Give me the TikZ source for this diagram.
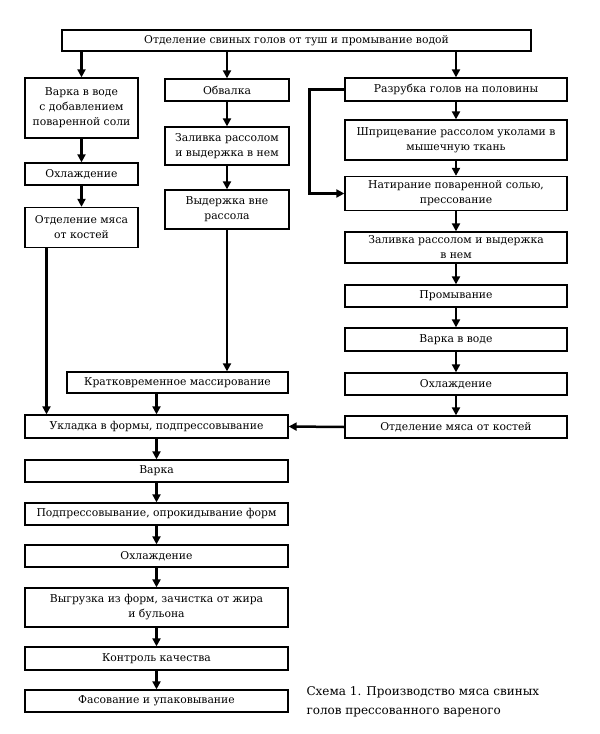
\documentclass[tikz,border=0pt]{standalone}
\usepackage{fontspec}
\setmainfont{DejaVu Serif}
\usetikzlibrary{arrows.meta}

\begin{document}
\begin{tikzpicture}[x=1pt, y=-1pt,
  etape/.style={draw, line width=1.3pt, align=center, inner sep=2pt,
    font=\fontsize{10.8}{15}\selectfont},
  fleche/.style={line width=2.5pt, -{Triangle[length=8pt,width=8pt]}}]
  \useasboundingbox (0,0) rectangle (600,734);

  \node[etape, minimum width=469, minimum height=21] (tete) at (296.5,40.5)
    {Отделение свиных голов от туш и промывание водой};

  % colonne gauche
  \node[etape, minimum width=113, minimum height=60] (L1) at (81.5,108)
    {Варка в воде\\с добавлением\\поваренной соли};
  \node[etape, minimum width=113, minimum height=22] (L2) at (81.5,174) {Охлаждение};
  \node[etape, minimum width=113, minimum height=40] (L3) at (81.5,227.5)
    {Отделение мяса\\от костей};

  % colonne du milieu
  \node[etape, minimum width=124, minimum height=22] (M1) at (227,90) {Обвалка};
  \node[etape, minimum width=124, minimum height=38] (M2) at (227,146)
    {Заливка рассолом\\и выдержка в нем};
  \node[etape, minimum width=124, minimum height=39] (M3) at (227,209.5)
    {Выдержка вне\\рассола};
  \node[etape, minimum width=221, minimum height=21] (M4) at (177.5,382.5)
    {Кратковременное массирование};

  % colonne droite
  \node[etape, minimum width=222, minimum height=23] (R1) at (456,89.5)
    {Разрубка голов на половины};
  \node[etape, minimum width=222, minimum height=40] (R2) at (456,140)
    {Шприцевание рассолом уколами в\\мышечную ткань};
  \node[etape, minimum width=222, minimum height=34] (R3) at (456,193.5)
    {Натирание поваренной солью,\\прессование};
  \node[etape, minimum width=222, minimum height=31] (R4) at (456,247.5)
    {Заливка рассолом и выдержка\\в нем};
  \node[etape, minimum width=222, minimum height=22] (R5) at (456,296) {Промывание};
  \node[etape, minimum width=222, minimum height=23] (R6) at (456,339.5) {Варка в воде};
  \node[etape, minimum width=222, minimum height=22] (R7) at (456,384) {Охлаждение};
  \node[etape, minimum width=222, minimum height=22] (R8) at (456,427)
    {Отделение мяса от костей};

  % tronc commun
  \node[etape, minimum width=263, minimum height=23] (B1) at (156.5,426.5)
    {Укладка в формы, подпрессовывание};
  \node[etape, minimum width=263, minimum height=22] (B2) at (156.5,471) {Варка};
  \node[etape, minimum width=263, minimum height=22] (B3) at (156.5,514)
    {Подпрессовывание, опрокидывание форм};
  \node[etape, minimum width=263, minimum height=22] (B4) at (156.5,556) {Охлаждение};
  \node[etape, minimum width=263, minimum height=39] (B5) at (156.5,607.5)
    {Выгрузка из форм, зачистка от жира\\и бульона};
  \node[etape, minimum width=263, minimum height=23] (B6) at (156.5,658.5)
    {Контроль качества};
  \node[etape, minimum width=263, minimum height=22] (B7) at (156.5,701)
    {Фасование и упаковывание};

  \node[anchor=west, align=left, font=\fontsize{12}{19}\selectfont] (legende) at (303,702)
    {Схема 1. Производство мяса свиных\\голов прессованного вареного};

  % fleches
  \foreach \n in {L1, M1, R1}
    \draw[fleche] (tete.south -| \n.north) -- (\n.north);
  \foreach \a/\b in {L1/L2, L2/L3, M1/M2, M2/M3, R1/R2, R2/R3, R3/R4, R4/R5,
      R5/R6, R6/R7, R7/R8, B1/B2, B2/B3, B3/B4, B4/B5, B5/B6, B6/B7}
    \draw[fleche] (\a.south) -- (\b.north);
  \draw[fleche] ([xshift=-35]L3.south) -- ([xshift=-35]L3.south |- B1.north);
  \draw[fleche] (M3.south) -- (M3.south |- M4.north);
  \draw[fleche] (M4.south -| B1.north) -- (B1.north);
  \draw[fleche] (R1.west) -- ++(-35,0) |- (R3.west);
  \draw[fleche] (R8.west) -- (B1.east);
\end{tikzpicture}
\end{document}
